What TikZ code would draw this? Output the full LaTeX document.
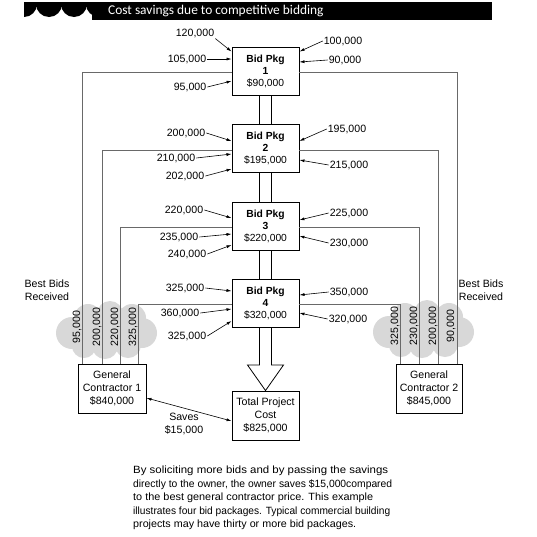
\documentclass[tikz,border=0pt]{standalone}
\usepackage{fontspec}
\setmainfont{Liberation Sans}
\newfontfamily\titlefont{Carlito}
\usetikzlibrary{arrows.meta,calc}
\definecolor{cloudgray}{RGB}{216,216,216}
\definecolor{linegray}{RGB}{105,105,105}
\begin{document}
\begin{tikzpicture}[x=1pt,y=-1pt,
  font=\fontsize{10.6}{12.5}\selectfont,
  pkgbox/.style={draw=black, line width=0.9pt, minimum width=67pt, minimum height=48pt,
     inner sep=0pt, align=center, font=\fontsize{10.3}{12}\selectfont},
  gcbox/.style={draw=black, line width=0.9pt, minimum width=67pt, minimum height=49pt,
     inner sep=0pt, align=center, font=\fontsize{10.6}{13}\selectfont},
  lbl/.style={inner sep=1pt, font=\fontsize{10.6}{12}\selectfont},
  vlbl/.style={rotate=90, inner sep=0pt, font=\fontsize{10.6}{12}\selectfont},
  arr/.style={-{Latex[length=5pt,width=3pt]}, line width=0.6pt},
  conn/.style={draw=linegray, line width=0.9pt},
  dbl/.style={draw=black, line width=0.8pt}]
\useasboundingbox (0,0) rectangle (537,536);

% header bar
\fill[black] (24,2) rectangle (492,20);
\fill[white] (24,7) rectangle (92,20);
\begin{scope}
  \clip (24,2) rectangle (492,20);
  \foreach \cx in {24,49,74,99} \fill[black] (\cx,4) circle (13);
\end{scope}
\node[anchor=west, text=white, inner sep=0pt, font=\titlefont\fontsize{13.4}{14}\selectfont] (title) at (108,11) {Cost savings due to competitive bidding};

% clouds
\foreach \dx/\dy in {0/0, 317/-1}{
  \begin{scope}[shift={(\dx,\dy)}]
  \fill[cloudgray] (72,333) circle (16) (88,318) circle (14) (110,314) circle (13)
     (132,318) circle (14) (142,333) circle (15) (128,345) circle (13)
     (105,346) circle (13) (84,346) circle (12) (100,330) circle (18) (120,332) circle (16);
  \end{scope}
}

% bid packages
\node[pkgbox] (p1) at (265.5,71) {\textbf{Bid Pkg}\\\textbf{1}\\\$90,000};
\node[pkgbox] (p2) at (265.5,148.5) {\textbf{Bid Pkg}\\\textbf{2}\\\$195,000};
\node[pkgbox] (p3) at (265.5,226) {\textbf{Bid Pkg}\\\textbf{3}\\\$220,000};
\node[pkgbox] (p4) at (265.5,303) {\textbf{Bid Pkg}\\\textbf{4}\\\$320,000};

\node[gcbox, minimum width=68pt] (gc1) at (112,388.5) {General\\Contractor 1\\\$840,000};
\node[gcbox, minimum width=66pt] (gc2) at (429,388.5) {General\\Contractor 2\\\$845,000};
\node[gcbox] (tpc) at (265.5,415.5) {Total Project\\Cost\\\$825,000};

% double lines between packages
\foreach \a/\b in {p1/p2,p2/p3,p3/p4}{
  \draw[dbl] ([xshift=-6pt]\a.south) -- ([xshift=-6pt]\b.north);
  \draw[dbl] ([xshift=6pt]\a.south) -- ([xshift=6pt]\b.north);
}
% big arrow to total cost
\coordinate (hb) at (265.5,365);
\draw[dbl, line join=miter] ([xshift=-6pt]p4.south) -- ([xshift=-6pt]hb) -- ([xshift=-18pt]hb)
  -- (tpc.north) -- ([xshift=18pt]hb) -- ([xshift=6pt]hb) -- ([xshift=6pt]p4.south);

% best bid lines
\draw[conn] ([yshift=-1.5pt]p1.west) -| ([xshift=5pt]gc1.north west);
\draw[conn] ([yshift=-1.5pt]p2.west) -| ([xshift=25pt]gc1.north west);
\draw[conn] ([yshift=-1.5pt]p3.west) -| ([xshift=43pt]gc1.north west);
\draw[conn] ([yshift=-1.5pt]p4.west) -| ([xshift=61pt]gc1.north west);
\draw[conn] ([yshift=-1.5pt]p1.east) -| ([xshift=-5pt]gc2.north east);
\draw[conn] ([yshift=-1.5pt]p2.east) -| ([xshift=43pt]gc2.north west);
\draw[conn] ([yshift=-1.5pt]p3.east) -| ([xshift=24pt]gc2.north west);
\draw[conn] ([yshift=-1.5pt]p4.east) -| ([xshift=5pt]gc2.north west);

% vertical best-bid values
\node[vlbl] (v1) at (77,327) {95,000};
\node[vlbl] (v2) at (97,327) {200,000};
\node[vlbl] (v3) at (115,327) {220,000};
\node[vlbl] (v4) at (133,327) {325,000};
\node[vlbl] (w4) at (395,326) {325,000};
\node[vlbl] (w3) at (414,326) {230,000};
\node[vlbl] (w2) at (433,326) {200,000};
\node[vlbl] (w1) at (451,326) {90,000};

\node[align=center, font=\fontsize{10.6}{13}\selectfont] (bbl) at (47,290) {Best Bids\\Received};
\node[align=center, font=\fontsize{10.6}{13}\selectfont] (bbr) at (481,290) {Best Bids\\Received};

% package 1 bids
\node[lbl] (a1) at (195,33) {120,000};
\node[lbl] (a2) at (187,59) {105,000};
\node[lbl] (a3) at (190,87) {95,000};
\node[lbl] (a4) at (343,41) {100,000};
\node[lbl] (a5) at (345,60) {90,000};
\draw[arr] (a1.south east) -- ([yshift=-5pt]p1.north west);
\draw[arr] (a2.east) -- ([yshift=12pt]p1.west);
\draw[arr] (a3.east) -- ([yshift=-10pt]p1.west);
\draw[arr] (a4.west) -- ([yshift=-5pt]p1.north east);
\draw[arr] (a5.west) -- ([yshift=9pt]p1.east);

% package 2 bids
\node[lbl] (b1) at (186,133) {200,000};
\node[lbl] (b2) at (176,158) {210,000};
\node[lbl] (b3) at (185,176) {202,000};
\node[lbl] (b4) at (347,129) {195,000};
\node[lbl] (b5) at (349,165) {215,000};
\draw[arr] (b1.east) -- ([yshift=7.5pt]p2.west);
\draw[arr] (b2.east) -- ([yshift=-5.5pt]p2.west);
\draw[arr] (b3.east) -- ([yshift=-20.5pt]p2.west);
\draw[arr] (b4.west) -- ([yshift=7.5pt]p2.east);
\draw[arr] (b5.west) -- ([yshift=-11.5pt]p2.east);

% package 3 bids
\node[lbl] (c1) at (184,210) {220,000};
\node[lbl] (c2) at (179,237) {235,000};
\node[lbl] (c3) at (187,254) {240,000};
\node[lbl] (c4) at (349,213) {225,000};
\node[lbl] (c5) at (349,243) {230,000};
\draw[arr] (c1.east) -- ([yshift=8pt]p3.west);
\draw[arr] (c2.east) -- ([yshift=-8pt]p3.west);
\draw[arr] (c3.east) -- ([yshift=-19pt]p3.west);
\draw[arr] (c4.west) -- ([yshift=6pt]p3.east);
\draw[arr] (c5.west) -- ([yshift=-10pt]p3.east);

% package 4 bids
\node[lbl] (d1) at (185,288) {325,000};
\node[lbl] (d2) at (180,313) {360,000};
\node[lbl] (d3) at (187,336) {325,000};
\node[lbl] (d4) at (349,292) {350,000};
\node[lbl] (d5) at (348,319) {320,000};
\draw[arr] (d1.east) -- ([yshift=12pt]p4.west);
\draw[arr] (d2.east) -- ([yshift=-6pt]p4.west);
\draw[arr] (d3.east) -- ([yshift=-18pt]p4.west);
\draw[arr] (d4.west) -- ([yshift=8pt]p4.east);
\draw[arr] (d5.west) -- ([yshift=-10pt]p4.east);

% savings
\node[align=center, font=\fontsize{10.6}{13}\selectfont] (sv) at (184,424) {Saves\\\$15,000};
\draw[{Latex[length=5pt,width=3pt]}-{Latex[length=5pt,width=3pt]}, line width=0.6pt]
  ([yshift=-9.5pt]gc1.east) -- ([yshift=-5.5pt]tpc.west);

% caption
\node[anchor=north west, align=left, inner sep=0pt, font=\fontsize{10.5}{13.5}\selectfont] (para) at (133,466)
 {\resizebox{255pt}{\height}{By soliciting more bids and by passing the savings}\\
  \resizebox{259pt}{\height}{directly to the owner, the owner saves \$15,000compared}\\
  \resizebox{240pt}{\height}{to the best general contractor price. This example}\\
  \resizebox{257pt}{\height}{illustrates four bid packages. Typical commercial building}\\
  \resizebox{223pt}{\height}{projects may have thirty or more bid packages.}};
\end{tikzpicture}
\end{document}
